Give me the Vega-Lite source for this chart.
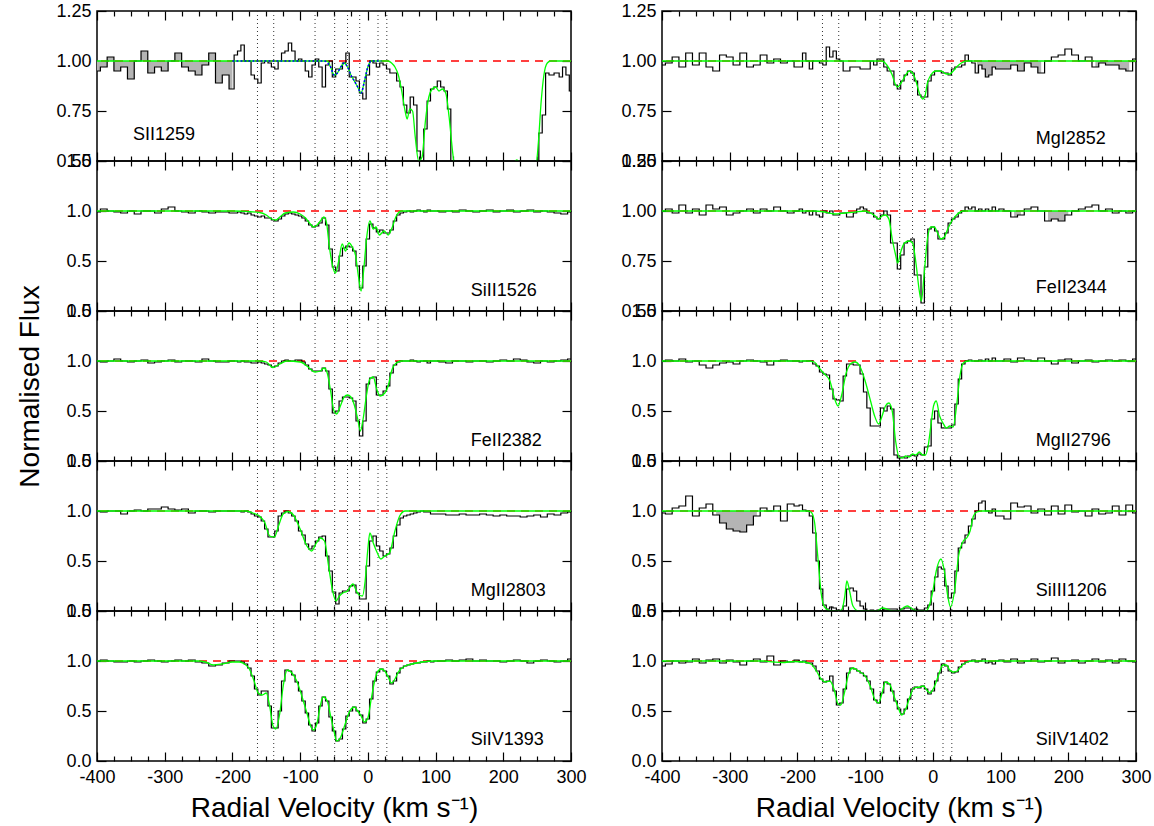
{
"$schema":"https://vega.github.io/schema/vega-lite/v6.json",
"background":"white",
"padding":{"left":16,"top":1,"right":0,"bottom":0},
"spacing":33,
"config":{
"view":{"stroke":"black","strokeWidth":1.5},
"font":"Liberation Sans",
"axis":{"domain":false,"grid":false,"labelFont":"Liberation Sans","labelFontSize":18,"labelColor":"black","tickColor":"black","tickWidth":1.2,"titleFont":"Liberation Sans","titleFontSize":28,"titleFontWeight":"normal","titleColor":"black","labelFlush":false,"labelOverlap":false,"labelBound":false}
},
"datasets":{
"comp":[{"c":-163},{"c":-139},{"c":-78},{"c":-49},{"c":-30},{"c":-12},{"c":15},{"c":28}],
"obs":[
{"p":"a","v":-400,"f":0.95,"g":1},{"p":"a","v":-390,"f":0.97,"g":1},{"p":"a","v":-380,"f":1.02,"g":1},{"p":"a","v":-370,"f":0.95,"g":1},{"p":"a","v":-360,"f":0.97,"g":1},{"p":"a","v":-350,"f":0.91,"g":1},{"p":"a","v":-340,"f":1.0,"g":1},{"p":"a","v":-330,"f":1.05,"g":1},{"p":"a","v":-320,"f":0.94,"g":1},{"p":"a","v":-310,"f":0.97,"g":1},{"p":"a","v":-300,"f":0.95,"g":1},{"p":"a","v":-290,"f":1.0,"g":1},{"p":"a","v":-280,"f":1.04,"g":1},{"p":"a","v":-270,"f":0.97,"g":1},{"p":"a","v":-260,"f":0.95,"g":1},{"p":"a","v":-250,"f":0.93,"g":1},{"p":"a","v":-240,"f":0.98,"g":1},{"p":"a","v":-230,"f":1.04,"g":1},{"p":"a","v":-220,"f":0.89,"g":1},{"p":"a","v":-210,"f":0.93,"g":1},{"p":"a","v":-200,"f":0.86,"g":1},
{"p":"a","v":-195,"f":1.03},{"p":"a","v":-190,"f":1.05},{"p":"a","v":-185,"f":1.08},{"p":"a","v":-180,"f":1.0},{"p":"a","v":-175,"f":1.0},{"p":"a","v":-170,"f":0.93},{"p":"a","v":-165,"f":0.91},{"p":"a","v":-160,"f":0.89},{"p":"a","v":-155,"f":0.99},{"p":"a","v":-150,"f":1.0},{"p":"a","v":-145,"f":0.99},{"p":"a","v":-140,"f":0.97},{"p":"a","v":-135,"f":0.96},{"p":"a","v":-130,"f":1.0},{"p":"a","v":-125,"f":1.04},{"p":"a","v":-120,"f":1.05},{"p":"a","v":-115,"f":1.09},{"p":"a","v":-110,"f":1.05},{"p":"a","v":-105,"f":1.0},{"p":"a","v":-100,"f":1.01},{"p":"a","v":-95,"f":1.0},{"p":"a","v":-90,"f":0.95},{"p":"a","v":-85,"f":0.92},{"p":"a","v":-80,"f":0.98},{"p":"a","v":-75,"f":1.01},{"p":"a","v":-70,"f":0.97},{"p":"a","v":-65,"f":0.87},{"p":"a","v":-60,"f":0.98},{"p":"a","v":-55,"f":1.0},{"p":"a","v":-50,"f":0.92},{"p":"a","v":-45,"f":0.96},{"p":"a","v":-40,"f":0.96},{"p":"a","v":-35,"f":0.99},{"p":"a","v":-30,"f":1.04},{"p":"a","v":-25,"f":0.92},{"p":"a","v":-20,"f":0.92},{"p":"a","v":-15,"f":0.9},{"p":"a","v":-10,"f":0.84},{"p":"a","v":-5,"f":0.81},{"p":"a","v":0,"f":0.93},{"p":"a","v":5,"f":1.0},{"p":"a","v":10,"f":0.99},{"p":"a","v":15,"f":0.97},{"p":"a","v":20,"f":0.99},{"p":"a","v":25,"f":0.98},{"p":"a","v":30,"f":0.96},{"p":"a","v":35,"f":0.94},{"p":"a","v":40,"f":0.94},{"p":"a","v":45,"f":0.9},{"p":"a","v":50,"f":0.87},{"p":"a","v":55,"f":0.78},{"p":"a","v":60,"f":0.74},{"p":"a","v":65,"f":0.82},{"p":"a","v":70,"f":0.78},{"p":"a","v":75,"f":0.55},{"p":"a","v":80,"f":0.5},{"p":"a","v":85,"f":0.66},{"p":"a","v":90,"f":0.8},{"p":"a","v":95,"f":0.86},{"p":"a","v":100,"f":0.87},{"p":"a","v":105,"f":0.9},{"p":"a","v":110,"f":0.87},{"p":"a","v":115,"f":0.85},{"p":"a","v":120,"f":0.76},{"p":"a","v":125,"f":0.5},{"p":"a","v":130,"f":0.4},{"p":"a","v":140,"f":0.3},{"p":"a","v":150,"f":0.2},{"p":"a","v":160,"f":0.2},{"p":"a","v":170,"f":0.2},{"p":"a","v":180,"f":0.2},{"p":"a","v":190,"f":0.2},{"p":"a","v":200,"f":0.2},{"p":"a","v":210,"f":0.2},{"p":"a","v":220,"f":0.2},{"p":"a","v":230,"f":0.2},{"p":"a","v":240,"f":0.25},{"p":"a","v":245,"f":0.3},{"p":"a","v":250,"f":0.45},{"p":"a","v":255,"f":0.64},{"p":"a","v":260,"f":0.73},{"p":"a","v":265,"f":0.94},{"p":"a","v":270,"f":0.93},{"p":"a","v":280,"f":0.94},{"p":"a","v":285,"f":0.92},{"p":"a","v":290,"f":0.97},{"p":"a","v":295,"f":0.93},{"p":"a","v":300,"f":0.85},

{"p":"b","v":-400,"f":0.99},{"p":"b","v":-390,"f":1.02},{"p":"b","v":-380,"f":1.0},{"p":"b","v":-370,"f":0.99},{"p":"b","v":-360,"f":0.98},{"p":"b","v":-350,"f":1.0},{"p":"b","v":-340,"f":0.97},{"p":"b","v":-330,"f":1.0},{"p":"b","v":-320,"f":1.0},{"p":"b","v":-310,"f":0.98},{"p":"b","v":-300,"f":1.02},{"p":"b","v":-290,"f":1.04},{"p":"b","v":-280,"f":1.0},{"p":"b","v":-270,"f":0.99},{"p":"b","v":-260,"f":0.98},{"p":"b","v":-250,"f":1.0},{"p":"b","v":-240,"f":0.99},{"p":"b","v":-230,"f":0.98},{"p":"b","v":-220,"f":0.99},{"p":"b","v":-210,"f":0.99},{"p":"b","v":-200,"f":0.98},
{"p":"b","v":-195,"f":0.98},{"p":"b","v":-190,"f":0.99},{"p":"b","v":-185,"f":0.98},{"p":"b","v":-180,"f":0.97},{"p":"b","v":-175,"f":0.98},{"p":"b","v":-170,"f":0.96},{"p":"b","v":-165,"f":0.95},{"p":"b","v":-160,"f":0.94},{"p":"b","v":-155,"f":0.95},{"p":"b","v":-150,"f":0.93},{"p":"b","v":-145,"f":0.93},{"p":"b","v":-140,"f":0.91},{"p":"b","v":-135,"f":0.9},{"p":"b","v":-130,"f":0.92},{"p":"b","v":-125,"f":0.95},{"p":"b","v":-120,"f":0.97},{"p":"b","v":-115,"f":0.98},{"p":"b","v":-110,"f":0.97},{"p":"b","v":-105,"f":0.96},{"p":"b","v":-100,"f":0.95},{"p":"b","v":-95,"f":0.93},{"p":"b","v":-90,"f":0.9},{"p":"b","v":-85,"f":0.86},{"p":"b","v":-80,"f":0.84},{"p":"b","v":-75,"f":0.85},{"p":"b","v":-70,"f":0.88},{"p":"b","v":-65,"f":0.93},{"p":"b","v":-60,"f":0.86},{"p":"b","v":-55,"f":0.62},{"p":"b","v":-50,"f":0.44},{"p":"b","v":-45,"f":0.4},{"p":"b","v":-40,"f":0.55},{"p":"b","v":-35,"f":0.63},{"p":"b","v":-30,"f":0.65},{"p":"b","v":-25,"f":0.64},{"p":"b","v":-20,"f":0.6},{"p":"b","v":-15,"f":0.45},{"p":"b","v":-10,"f":0.23},{"p":"b","v":-5,"f":0.45},{"p":"b","v":0,"f":0.72},{"p":"b","v":5,"f":0.87},{"p":"b","v":10,"f":0.83},{"p":"b","v":15,"f":0.79},{"p":"b","v":20,"f":0.81},{"p":"b","v":25,"f":0.78},{"p":"b","v":30,"f":0.78},{"p":"b","v":35,"f":0.81},{"p":"b","v":40,"f":0.9},{"p":"b","v":45,"f":0.96},{"p":"b","v":50,"f":0.98},{"p":"b","v":55,"f":0.99},{"p":"b","v":60,"f":1.0},{"p":"b","v":65,"f":0.99},{"p":"b","v":70,"f":1.0},{"p":"b","v":75,"f":1.01},{"p":"b","v":80,"f":1.0},{"p":"b","v":85,"f":0.99},{"p":"b","v":90,"f":1.01},{"p":"b","v":95,"f":1.0},{"p":"b","v":100,"f":1.0},
{"p":"b","v":110,"f":0.99},{"p":"b","v":120,"f":1.0},{"p":"b","v":130,"f":0.99},{"p":"b","v":140,"f":1.01},{"p":"b","v":150,"f":1.0},{"p":"b","v":160,"f":0.99},{"p":"b","v":170,"f":1.0},{"p":"b","v":180,"f":1.01},{"p":"b","v":190,"f":0.99},{"p":"b","v":200,"f":1.0},{"p":"b","v":210,"f":1.01},{"p":"b","v":220,"f":0.99},{"p":"b","v":230,"f":1.0},{"p":"b","v":240,"f":1.01},{"p":"b","v":250,"f":0.99},{"p":"b","v":260,"f":1.0},{"p":"b","v":270,"f":0.99},{"p":"b","v":280,"f":0.98},{"p":"b","v":290,"f":0.97},{"p":"b","v":300,"f":0.99},

{"p":"c","v":-400,"f":1.0},{"p":"c","v":-390,"f":0.99},{"p":"c","v":-380,"f":1.0},{"p":"c","v":-370,"f":1.02},{"p":"c","v":-360,"f":1.0},{"p":"c","v":-350,"f":0.99},{"p":"c","v":-340,"f":1.0},{"p":"c","v":-330,"f":1.01},{"p":"c","v":-320,"f":0.98},{"p":"c","v":-310,"f":0.99},{"p":"c","v":-300,"f":1.0},{"p":"c","v":-290,"f":1.01},{"p":"c","v":-280,"f":0.99},{"p":"c","v":-270,"f":1.0},{"p":"c","v":-260,"f":1.0},{"p":"c","v":-250,"f":0.99},{"p":"c","v":-240,"f":1.02},{"p":"c","v":-230,"f":1.0},{"p":"c","v":-220,"f":0.99},{"p":"c","v":-210,"f":0.99},{"p":"c","v":-200,"f":1.0},
{"p":"c","v":-195,"f":1.0},{"p":"c","v":-190,"f":0.99},{"p":"c","v":-185,"f":1.0},{"p":"c","v":-180,"f":0.99},{"p":"c","v":-175,"f":0.99},{"p":"c","v":-170,"f":0.98},{"p":"c","v":-165,"f":0.98},{"p":"c","v":-160,"f":0.99},{"p":"c","v":-155,"f":0.98},{"p":"c","v":-150,"f":0.97},{"p":"c","v":-145,"f":0.96},{"p":"c","v":-140,"f":0.94},{"p":"c","v":-135,"f":0.95},{"p":"c","v":-130,"f":0.98},{"p":"c","v":-125,"f":1.0},{"p":"c","v":-120,"f":1.01},{"p":"c","v":-115,"f":1.0},{"p":"c","v":-110,"f":1.0},{"p":"c","v":-105,"f":1.01},{"p":"c","v":-100,"f":1.01},{"p":"c","v":-95,"f":0.99},{"p":"c","v":-90,"f":0.96},{"p":"c","v":-85,"f":0.92},{"p":"c","v":-80,"f":0.9},{"p":"c","v":-75,"f":0.9},{"p":"c","v":-70,"f":0.9},{"p":"c","v":-65,"f":0.93},{"p":"c","v":-60,"f":0.9},{"p":"c","v":-55,"f":0.72},{"p":"c","v":-50,"f":0.48},{"p":"c","v":-45,"f":0.5},{"p":"c","v":-40,"f":0.6},{"p":"c","v":-35,"f":0.64},{"p":"c","v":-30,"f":0.64},{"p":"c","v":-25,"f":0.63},{"p":"c","v":-20,"f":0.6},{"p":"c","v":-15,"f":0.4},{"p":"c","v":-10,"f":0.25},{"p":"c","v":-5,"f":0.4},{"p":"c","v":0,"f":0.77},{"p":"c","v":5,"f":0.83},{"p":"c","v":10,"f":0.84},{"p":"c","v":15,"f":0.66},{"p":"c","v":20,"f":0.66},{"p":"c","v":25,"f":0.7},{"p":"c","v":30,"f":0.75},{"p":"c","v":35,"f":0.88},{"p":"c","v":40,"f":0.96},{"p":"c","v":45,"f":0.99},{"p":"c","v":50,"f":1.0},{"p":"c","v":55,"f":1.0},{"p":"c","v":60,"f":1.0},{"p":"c","v":65,"f":1.01},{"p":"c","v":70,"f":1.0},{"p":"c","v":75,"f":0.99},{"p":"c","v":80,"f":1.0},{"p":"c","v":85,"f":1.0},{"p":"c","v":90,"f":0.98},{"p":"c","v":95,"f":1.0},{"p":"c","v":100,"f":1.0},
{"p":"c","v":110,"f":0.99},{"p":"c","v":120,"f":0.98},{"p":"c","v":130,"f":1.0},{"p":"c","v":140,"f":1.0},{"p":"c","v":150,"f":0.99},{"p":"c","v":160,"f":1.0},{"p":"c","v":170,"f":1.0},{"p":"c","v":180,"f":0.99},{"p":"c","v":190,"f":1.0},{"p":"c","v":200,"f":1.01},{"p":"c","v":210,"f":1.0},{"p":"c","v":220,"f":1.02},{"p":"c","v":230,"f":1.01},{"p":"c","v":240,"f":0.99},{"p":"c","v":250,"f":0.98},{"p":"c","v":260,"f":1.0},{"p":"c","v":270,"f":0.99},{"p":"c","v":280,"f":1.0},{"p":"c","v":290,"f":1.01},{"p":"c","v":300,"f":1.02},

{"p":"d","v":-400,"f":1.0},{"p":"d","v":-390,"f":0.99},{"p":"d","v":-380,"f":1.0},{"p":"d","v":-370,"f":1.0},{"p":"d","v":-360,"f":0.97},{"p":"d","v":-350,"f":1.0},{"p":"d","v":-340,"f":1.01},{"p":"d","v":-330,"f":1.0},{"p":"d","v":-320,"f":1.02},{"p":"d","v":-310,"f":1.02},{"p":"d","v":-300,"f":1.04},{"p":"d","v":-290,"f":1.02},{"p":"d","v":-280,"f":1.01},{"p":"d","v":-270,"f":1.02},{"p":"d","v":-260,"f":0.98},{"p":"d","v":-250,"f":1.0},{"p":"d","v":-240,"f":1.0},{"p":"d","v":-230,"f":0.99},{"p":"d","v":-220,"f":1.0},{"p":"d","v":-210,"f":1.0},{"p":"d","v":-200,"f":1.0},
{"p":"d","v":-195,"f":1.0},{"p":"d","v":-190,"f":1.0},{"p":"d","v":-185,"f":0.99},{"p":"d","v":-180,"f":1.0},{"p":"d","v":-175,"f":0.99},{"p":"d","v":-170,"f":0.97},{"p":"d","v":-165,"f":0.95},{"p":"d","v":-160,"f":0.94},{"p":"d","v":-155,"f":0.9},{"p":"d","v":-150,"f":0.82},{"p":"d","v":-145,"f":0.74},{"p":"d","v":-140,"f":0.74},{"p":"d","v":-135,"f":0.8},{"p":"d","v":-130,"f":0.95},{"p":"d","v":-125,"f":0.98},{"p":"d","v":-120,"f":1.0},{"p":"d","v":-115,"f":0.98},{"p":"d","v":-110,"f":0.95},{"p":"d","v":-105,"f":0.9},{"p":"d","v":-100,"f":0.8},{"p":"d","v":-95,"f":0.76},{"p":"d","v":-90,"f":0.67},{"p":"d","v":-85,"f":0.62},{"p":"d","v":-80,"f":0.65},{"p":"d","v":-75,"f":0.7},{"p":"d","v":-70,"f":0.74},{"p":"d","v":-65,"f":0.75},{"p":"d","v":-60,"f":0.55},{"p":"d","v":-55,"f":0.4},{"p":"d","v":-50,"f":0.19},{"p":"d","v":-45,"f":0.07},{"p":"d","v":-40,"f":0.18},{"p":"d","v":-35,"f":0.2},{"p":"d","v":-30,"f":0.2},{"p":"d","v":-25,"f":0.25},{"p":"d","v":-20,"f":0.26},{"p":"d","v":-15,"f":0.18},{"p":"d","v":-10,"f":0.12},{"p":"d","v":-5,"f":0.12},{"p":"d","v":0,"f":0.45},{"p":"d","v":5,"f":0.7},{"p":"d","v":10,"f":0.75},{"p":"d","v":15,"f":0.65},{"p":"d","v":20,"f":0.6},{"p":"d","v":25,"f":0.55},{"p":"d","v":30,"f":0.57},{"p":"d","v":35,"f":0.63},{"p":"d","v":40,"f":0.75},{"p":"d","v":45,"f":0.86},{"p":"d","v":50,"f":0.93},{"p":"d","v":55,"f":0.95},{"p":"d","v":60,"f":0.96},{"p":"d","v":65,"f":0.97},{"p":"d","v":70,"f":0.98},{"p":"d","v":75,"f":0.99},{"p":"d","v":80,"f":1.0},{"p":"d","v":85,"f":0.99},{"p":"d","v":90,"f":0.99},{"p":"d","v":95,"f":0.97},{"p":"d","v":100,"f":0.97},
{"p":"d","v":110,"f":0.97},{"p":"d","v":120,"f":0.96},{"p":"d","v":130,"f":0.96},{"p":"d","v":140,"f":0.97},{"p":"d","v":150,"f":0.96},{"p":"d","v":160,"f":0.96},{"p":"d","v":170,"f":0.97},{"p":"d","v":180,"f":0.96},{"p":"d","v":190,"f":0.95},{"p":"d","v":200,"f":0.96},{"p":"d","v":210,"f":0.95},{"p":"d","v":220,"f":0.95},{"p":"d","v":230,"f":0.94},{"p":"d","v":240,"f":0.95},{"p":"d","v":250,"f":0.96},{"p":"d","v":260,"f":0.94},{"p":"d","v":270,"f":0.97},{"p":"d","v":280,"f":0.96},{"p":"d","v":290,"f":0.98},{"p":"d","v":300,"f":0.99},

{"p":"e","v":-400,"f":1.0},{"p":"e","v":-390,"f":1.01},{"p":"e","v":-380,"f":1.0},{"p":"e","v":-370,"f":0.99},{"p":"e","v":-360,"f":0.99},{"p":"e","v":-350,"f":1.0},{"p":"e","v":-340,"f":0.99},{"p":"e","v":-330,"f":1.0},{"p":"e","v":-320,"f":1.01},{"p":"e","v":-310,"f":1.0},{"p":"e","v":-300,"f":0.99},{"p":"e","v":-290,"f":1.0},{"p":"e","v":-280,"f":1.01},{"p":"e","v":-270,"f":1.0},{"p":"e","v":-260,"f":1.01},{"p":"e","v":-250,"f":0.99},{"p":"e","v":-240,"f":0.98},{"p":"e","v":-230,"f":0.95},{"p":"e","v":-220,"f":0.96},{"p":"e","v":-210,"f":0.98},{"p":"e","v":-200,"f":1.0},
{"p":"e","v":-195,"f":1.0},{"p":"e","v":-190,"f":1.0},{"p":"e","v":-185,"f":0.99},{"p":"e","v":-180,"f":0.97},{"p":"e","v":-175,"f":0.93},{"p":"e","v":-170,"f":0.85},{"p":"e","v":-165,"f":0.72},{"p":"e","v":-160,"f":0.66},{"p":"e","v":-155,"f":0.7},{"p":"e","v":-150,"f":0.7},{"p":"e","v":-145,"f":0.55},{"p":"e","v":-140,"f":0.33},{"p":"e","v":-135,"f":0.33},{"p":"e","v":-130,"f":0.5},{"p":"e","v":-125,"f":0.8},{"p":"e","v":-120,"f":0.91},{"p":"e","v":-115,"f":0.9},{"p":"e","v":-110,"f":0.86},{"p":"e","v":-105,"f":0.79},{"p":"e","v":-100,"f":0.7},{"p":"e","v":-95,"f":0.6},{"p":"e","v":-90,"f":0.48},{"p":"e","v":-85,"f":0.36},{"p":"e","v":-80,"f":0.3},{"p":"e","v":-75,"f":0.38},{"p":"e","v":-70,"f":0.55},{"p":"e","v":-65,"f":0.64},{"p":"e","v":-60,"f":0.6},{"p":"e","v":-55,"f":0.44},{"p":"e","v":-50,"f":0.3},{"p":"e","v":-45,"f":0.2},{"p":"e","v":-40,"f":0.22},{"p":"e","v":-35,"f":0.32},{"p":"e","v":-30,"f":0.45},{"p":"e","v":-25,"f":0.5},{"p":"e","v":-20,"f":0.54},{"p":"e","v":-15,"f":0.5},{"p":"e","v":-10,"f":0.46},{"p":"e","v":-5,"f":0.38},{"p":"e","v":0,"f":0.42},{"p":"e","v":5,"f":0.62},{"p":"e","v":10,"f":0.8},{"p":"e","v":15,"f":0.89},{"p":"e","v":20,"f":0.92},{"p":"e","v":25,"f":0.9},{"p":"e","v":30,"f":0.85},{"p":"e","v":35,"f":0.77},{"p":"e","v":40,"f":0.8},{"p":"e","v":45,"f":0.88},{"p":"e","v":50,"f":0.93},{"p":"e","v":55,"f":0.95},{"p":"e","v":60,"f":0.96},{"p":"e","v":65,"f":0.97},{"p":"e","v":70,"f":0.98},{"p":"e","v":75,"f":0.98},{"p":"e","v":80,"f":0.99},{"p":"e","v":85,"f":0.99},{"p":"e","v":90,"f":1.0},{"p":"e","v":95,"f":0.99},{"p":"e","v":100,"f":1.0},
{"p":"e","v":110,"f":1.0},{"p":"e","v":120,"f":1.01},{"p":"e","v":130,"f":1.0},{"p":"e","v":140,"f":1.01},{"p":"e","v":150,"f":1.02},{"p":"e","v":160,"f":1.0},{"p":"e","v":170,"f":1.01},{"p":"e","v":180,"f":1.0},{"p":"e","v":190,"f":1.0},{"p":"e","v":200,"f":0.99},{"p":"e","v":210,"f":1.0},{"p":"e","v":220,"f":1.01},{"p":"e","v":230,"f":1.0},{"p":"e","v":240,"f":0.98},{"p":"e","v":250,"f":1.0},{"p":"e","v":260,"f":1.01},{"p":"e","v":270,"f":1.0},{"p":"e","v":280,"f":0.99},{"p":"e","v":290,"f":1.0},{"p":"e","v":300,"f":1.02},

{"p":"f","v":-400,"f":0.98},{"p":"f","v":-390,"f":0.99},{"p":"f","v":-380,"f":1.02},{"p":"f","v":-370,"f":0.97},{"p":"f","v":-360,"f":1.04},{"p":"f","v":-350,"f":0.98},{"p":"f","v":-340,"f":1.04},{"p":"f","v":-330,"f":0.97},{"p":"f","v":-320,"f":0.95},{"p":"f","v":-310,"f":1.03},{"p":"f","v":-300,"f":1.02},{"p":"f","v":-290,"f":0.98},{"p":"f","v":-280,"f":1.04},{"p":"f","v":-270,"f":0.97},{"p":"f","v":-260,"f":0.98},{"p":"f","v":-250,"f":1.03},{"p":"f","v":-240,"f":0.99},{"p":"f","v":-230,"f":1.01},{"p":"f","v":-220,"f":0.99},{"p":"f","v":-210,"f":1.0},{"p":"f","v":-200,"f":0.97},
{"p":"f","v":-195,"f":0.97},{"p":"f","v":-190,"f":1.04},{"p":"f","v":-185,"f":1.0},{"p":"f","v":-180,"f":0.96},{"p":"f","v":-175,"f":1.0},{"p":"f","v":-170,"f":1.0},{"p":"f","v":-165,"f":0.99},{"p":"f","v":-160,"f":0.98},{"p":"f","v":-155,"f":1.07},{"p":"f","v":-150,"f":1.02},{"p":"f","v":-145,"f":1.05},{"p":"f","v":-140,"f":1.01},{"p":"f","v":-135,"f":1.0},{"p":"f","v":-130,"f":0.95},{"p":"f","v":-125,"f":0.95},{"p":"f","v":-120,"f":0.97},{"p":"f","v":-115,"f":0.97},{"p":"f","v":-110,"f":0.97},{"p":"f","v":-105,"f":0.96},{"p":"f","v":-100,"f":0.96},{"p":"f","v":-95,"f":0.96},{"p":"f","v":-90,"f":1.0},{"p":"f","v":-85,"f":0.98},{"p":"f","v":-80,"f":1.01},{"p":"f","v":-75,"f":1.01},{"p":"f","v":-70,"f":0.97},{"p":"f","v":-65,"f":0.95},{"p":"f","v":-60,"f":0.95},{"p":"f","v":-55,"f":0.88},{"p":"f","v":-50,"f":0.86},{"p":"f","v":-45,"f":0.9},{"p":"f","v":-40,"f":0.93},{"p":"f","v":-35,"f":0.95},{"p":"f","v":-30,"f":0.94},{"p":"f","v":-25,"f":0.9},{"p":"f","v":-20,"f":0.83},{"p":"f","v":-15,"f":0.82},{"p":"f","v":-10,"f":0.82},{"p":"f","v":-5,"f":0.9},{"p":"f","v":0,"f":0.93},{"p":"f","v":5,"f":0.95},{"p":"f","v":10,"f":0.95},{"p":"f","v":15,"f":0.94},{"p":"f","v":20,"f":0.94},{"p":"f","v":25,"f":0.93},{"p":"f","v":30,"f":0.96},{"p":"f","v":35,"f":0.97},{"p":"f","v":40,"f":0.97},{"p":"f","v":45,"f":0.98},{"p":"f","v":50,"f":1.03},{"p":"f","v":55,"f":1.0},{"p":"f","v":60,"f":0.99},{"p":"f","v":65,"f":0.94,"g":1},{"p":"f","v":70,"f":0.98,"g":1},{"p":"f","v":75,"f":0.96,"g":1},{"p":"f","v":80,"f":0.92,"g":1},{"p":"f","v":85,"f":0.93,"g":1},{"p":"f","v":90,"f":0.97,"g":1},{"p":"f","v":95,"f":0.96,"g":1},{"p":"f","v":100,"f":0.96,"g":1},
{"p":"f","v":110,"f":0.96,"g":1},{"p":"f","v":120,"f":0.98,"g":1},{"p":"f","v":130,"f":0.95,"g":1},{"p":"f","v":140,"f":0.99,"g":1},{"p":"f","v":150,"f":0.97,"g":1},{"p":"f","v":160,"f":0.94,"g":1},{"p":"f","v":170,"f":1.0},{"p":"f","v":180,"f":1.02},{"p":"f","v":190,"f":1.03},{"p":"f","v":200,"f":1.06},{"p":"f","v":210,"f":1.03},{"p":"f","v":220,"f":1.0},{"p":"f","v":230,"f":1.02},{"p":"f","v":240,"f":0.97,"g":2},{"p":"f","v":250,"f":0.99,"g":2},{"p":"f","v":260,"f":0.98,"g":2},{"p":"f","v":270,"f":0.98,"g":2},{"p":"f","v":280,"f":0.96,"g":2},{"p":"f","v":290,"f":0.95,"g":2},{"p":"f","v":300,"f":1.01},

{"p":"g","v":-400,"f":1.0},{"p":"g","v":-390,"f":1.01},{"p":"g","v":-380,"f":0.99},{"p":"g","v":-370,"f":1.03},{"p":"g","v":-360,"f":0.99},{"p":"g","v":-350,"f":1.01},{"p":"g","v":-340,"f":0.98},{"p":"g","v":-330,"f":1.03},{"p":"g","v":-320,"f":1.01},{"p":"g","v":-310,"f":1.02},{"p":"g","v":-300,"f":0.98},{"p":"g","v":-290,"f":0.99},{"p":"g","v":-280,"f":1.0},{"p":"g","v":-270,"f":1.01},{"p":"g","v":-260,"f":0.99},{"p":"g","v":-250,"f":1.01},{"p":"g","v":-240,"f":1.0},{"p":"g","v":-230,"f":1.02},{"p":"g","v":-220,"f":1.0},{"p":"g","v":-210,"f":0.99},{"p":"g","v":-200,"f":1.0},
{"p":"g","v":-195,"f":1.01},{"p":"g","v":-190,"f":0.99},{"p":"g","v":-185,"f":1.0},{"p":"g","v":-180,"f":0.98},{"p":"g","v":-175,"f":1.0},{"p":"g","v":-170,"f":0.98},{"p":"g","v":-165,"f":0.97},{"p":"g","v":-160,"f":1.0},{"p":"g","v":-155,"f":0.99},{"p":"g","v":-150,"f":1.0},{"p":"g","v":-145,"f":0.98},{"p":"g","v":-140,"f":0.98},{"p":"g","v":-135,"f":0.99},{"p":"g","v":-130,"f":0.99},{"p":"g","v":-125,"f":0.97},{"p":"g","v":-120,"f":0.97},{"p":"g","v":-115,"f":0.99},{"p":"g","v":-110,"f":1.01},{"p":"g","v":-105,"f":1.02},{"p":"g","v":-100,"f":1.01},{"p":"g","v":-95,"f":0.99},{"p":"g","v":-90,"f":0.99},{"p":"g","v":-85,"f":0.97},{"p":"g","v":-80,"f":0.96},{"p":"g","v":-75,"f":0.98},{"p":"g","v":-70,"f":1.0},{"p":"g","v":-65,"f":0.98},{"p":"g","v":-60,"f":0.84},{"p":"g","v":-55,"f":0.84},{"p":"g","v":-50,"f":0.71},{"p":"g","v":-45,"f":0.78},{"p":"g","v":-40,"f":0.84},{"p":"g","v":-35,"f":0.85},{"p":"g","v":-30,"f":0.86},{"p":"g","v":-25,"f":0.68},{"p":"g","v":-20,"f":0.68},{"p":"g","v":-15,"f":0.54},{"p":"g","v":-10,"f":0.72},{"p":"g","v":-5,"f":0.91},{"p":"g","v":0,"f":0.92},{"p":"g","v":5,"f":0.9},{"p":"g","v":10,"f":0.86},{"p":"g","v":15,"f":0.86},{"p":"g","v":20,"f":0.89},{"p":"g","v":25,"f":0.94},{"p":"g","v":30,"f":0.96},{"p":"g","v":35,"f":0.97},{"p":"g","v":40,"f":0.99},{"p":"g","v":45,"f":1.0},{"p":"g","v":50,"f":1.02},{"p":"g","v":55,"f":1.01},{"p":"g","v":60,"f":1.02},{"p":"g","v":65,"f":1.0},{"p":"g","v":70,"f":1.01},{"p":"g","v":75,"f":1.0},{"p":"g","v":80,"f":1.01},{"p":"g","v":85,"f":1.0},{"p":"g","v":90,"f":1.02},{"p":"g","v":95,"f":1.0},{"p":"g","v":100,"f":1.01},
{"p":"g","v":110,"f":1.0},{"p":"g","v":120,"f":0.97,"g":1},{"p":"g","v":130,"f":0.98,"g":1},{"p":"g","v":140,"f":1.01},{"p":"g","v":150,"f":1.02},{"p":"g","v":160,"f":1.0},{"p":"g","v":170,"f":0.95,"g":2},{"p":"g","v":180,"f":0.96,"g":2},{"p":"g","v":190,"f":0.95,"g":2},{"p":"g","v":200,"f":0.98,"g":2},{"p":"g","v":210,"f":1.0},{"p":"g","v":220,"f":1.01},{"p":"g","v":230,"f":1.02},{"p":"g","v":240,"f":1.03},{"p":"g","v":250,"f":1.0},{"p":"g","v":260,"f":1.01},{"p":"g","v":270,"f":0.99},{"p":"g","v":280,"f":1.0},{"p":"g","v":290,"f":0.99},{"p":"g","v":300,"f":1.0},

{"p":"h","v":-400,"f":1.0},{"p":"h","v":-390,"f":1.01},{"p":"h","v":-380,"f":1.0},{"p":"h","v":-370,"f":1.02},{"p":"h","v":-360,"f":0.99},{"p":"h","v":-350,"f":1.0},{"p":"h","v":-340,"f":0.96},{"p":"h","v":-330,"f":0.93},{"p":"h","v":-320,"f":0.96},{"p":"h","v":-310,"f":0.98},{"p":"h","v":-300,"f":0.99},{"p":"h","v":-290,"f":0.97},{"p":"h","v":-280,"f":1.0},{"p":"h","v":-270,"f":1.01},{"p":"h","v":-260,"f":1.0},{"p":"h","v":-250,"f":0.99},{"p":"h","v":-240,"f":0.96},{"p":"h","v":-230,"f":1.0},{"p":"h","v":-220,"f":1.01},{"p":"h","v":-210,"f":1.0},{"p":"h","v":-200,"f":1.0},
{"p":"h","v":-195,"f":0.99},{"p":"h","v":-190,"f":1.0},{"p":"h","v":-185,"f":1.0},{"p":"h","v":-180,"f":1.0},{"p":"h","v":-175,"f":0.97},{"p":"h","v":-170,"f":0.95},{"p":"h","v":-165,"f":0.89},{"p":"h","v":-160,"f":0.87},{"p":"h","v":-155,"f":0.86},{"p":"h","v":-150,"f":0.72},{"p":"h","v":-145,"f":0.62},{"p":"h","v":-140,"f":0.61},{"p":"h","v":-135,"f":0.6},{"p":"h","v":-130,"f":0.85},{"p":"h","v":-125,"f":0.97},{"p":"h","v":-120,"f":0.97},{"p":"h","v":-115,"f":0.96},{"p":"h","v":-110,"f":0.96},{"p":"h","v":-105,"f":0.87},{"p":"h","v":-100,"f":0.69},{"p":"h","v":-95,"f":0.53},{"p":"h","v":-90,"f":0.35},{"p":"h","v":-85,"f":0.35},{"p":"h","v":-80,"f":0.35},{"p":"h","v":-75,"f":0.53},{"p":"h","v":-70,"f":0.5},{"p":"h","v":-65,"f":0.55},{"p":"h","v":-60,"f":0.52},{"p":"h","v":-55,"f":0.06},{"p":"h","v":-50,"f":0.03},{"p":"h","v":-45,"f":0.04},{"p":"h","v":-40,"f":0.03},{"p":"h","v":-35,"f":0.05},{"p":"h","v":-30,"f":0.06},{"p":"h","v":-25,"f":0.05},{"p":"h","v":-20,"f":0.07},{"p":"h","v":-15,"f":0.06},{"p":"h","v":-10,"f":0.14},{"p":"h","v":-5,"f":0.15},{"p":"h","v":0,"f":0.42},{"p":"h","v":5,"f":0.5},{"p":"h","v":10,"f":0.38},{"p":"h","v":15,"f":0.33},{"p":"h","v":20,"f":0.33},{"p":"h","v":25,"f":0.33},{"p":"h","v":30,"f":0.36},{"p":"h","v":35,"f":0.57},{"p":"h","v":40,"f":0.82},{"p":"h","v":45,"f":0.97},{"p":"h","v":50,"f":1.0},{"p":"h","v":55,"f":1.01},{"p":"h","v":60,"f":1.0},{"p":"h","v":65,"f":1.0},{"p":"h","v":70,"f":1.01},{"p":"h","v":75,"f":1.0},{"p":"h","v":80,"f":1.02},{"p":"h","v":85,"f":1.0},{"p":"h","v":90,"f":1.03},{"p":"h","v":95,"f":1.0},{"p":"h","v":100,"f":1.0},
{"p":"h","v":110,"f":1.02},{"p":"h","v":120,"f":0.99},{"p":"h","v":130,"f":1.03},{"p":"h","v":140,"f":1.01},{"p":"h","v":150,"f":1.0},{"p":"h","v":160,"f":1.03},{"p":"h","v":170,"f":1.0},{"p":"h","v":180,"f":0.97},{"p":"h","v":190,"f":1.01},{"p":"h","v":200,"f":1.02},{"p":"h","v":210,"f":0.98},{"p":"h","v":220,"f":1.0},{"p":"h","v":230,"f":1.01},{"p":"h","v":240,"f":0.99},{"p":"h","v":250,"f":1.0},{"p":"h","v":260,"f":1.01},{"p":"h","v":270,"f":1.0},{"p":"h","v":280,"f":1.01},{"p":"h","v":290,"f":1.0},{"p":"h","v":300,"f":1.02},

{"p":"i","v":-400,"f":0.98},{"p":"i","v":-390,"f":0.97},{"p":"i","v":-380,"f":1.03},{"p":"i","v":-370,"f":1.05},{"p":"i","v":-360,"f":1.15},{"p":"i","v":-350,"f":0.95},{"p":"i","v":-340,"f":1.03},{"p":"i","v":-330,"f":1.07},{"p":"i","v":-320,"f":0.96,"g":1},{"p":"i","v":-310,"f":0.88,"g":1},{"p":"i","v":-300,"f":0.82,"g":1},{"p":"i","v":-290,"f":0.8,"g":1},{"p":"i","v":-280,"f":0.79,"g":1},{"p":"i","v":-270,"f":0.86,"g":1},{"p":"i","v":-260,"f":0.95,"g":1},{"p":"i","v":-250,"f":1.03},{"p":"i","v":-240,"f":1.0},{"p":"i","v":-230,"f":1.05},{"p":"i","v":-220,"f":0.9},{"p":"i","v":-210,"f":1.07},{"p":"i","v":-200,"f":1.05},
{"p":"i","v":-195,"f":1.06},{"p":"i","v":-190,"f":1.01},{"p":"i","v":-185,"f":1.0},{"p":"i","v":-180,"f":0.95},{"p":"i","v":-175,"f":0.78},{"p":"i","v":-170,"f":0.5},{"p":"i","v":-165,"f":0.22},{"p":"i","v":-160,"f":0.06},{"p":"i","v":-155,"f":0.02},{"p":"i","v":-150,"f":0.04},{"p":"i","v":-145,"f":0.03},{"p":"i","v":-140,"f":0.01},{"p":"i","v":-135,"f":0.0},{"p":"i","v":-130,"f":0.05},{"p":"i","v":-125,"f":0.22},{"p":"i","v":-120,"f":0.23},{"p":"i","v":-115,"f":0.2},{"p":"i","v":-110,"f":0.1},{"p":"i","v":-105,"f":0.05},{"p":"i","v":-100,"f":0.02},{"p":"i","v":-95,"f":0.0},{"p":"i","v":-90,"f":0.01},{"p":"i","v":-85,"f":0.0},{"p":"i","v":-80,"f":0.01},{"p":"i","v":-75,"f":0.0},{"p":"i","v":-70,"f":0.02},{"p":"i","v":-65,"f":0.02},{"p":"i","v":-60,"f":0.02},{"p":"i","v":-55,"f":0.02},{"p":"i","v":-50,"f":0.0},{"p":"i","v":-45,"f":0.02},{"p":"i","v":-40,"f":0.03},{"p":"i","v":-35,"f":0.03},{"p":"i","v":-30,"f":0.0},{"p":"i","v":-25,"f":0.02},{"p":"i","v":-20,"f":0.01},{"p":"i","v":-15,"f":0.01},{"p":"i","v":-10,"f":0.03},{"p":"i","v":-5,"f":0.06},{"p":"i","v":0,"f":0.2},{"p":"i","v":5,"f":0.34},{"p":"i","v":10,"f":0.44},{"p":"i","v":15,"f":0.42},{"p":"i","v":20,"f":0.25},{"p":"i","v":25,"f":0.13},{"p":"i","v":30,"f":0.18},{"p":"i","v":35,"f":0.4},{"p":"i","v":40,"f":0.63},{"p":"i","v":45,"f":0.68},{"p":"i","v":50,"f":0.76},{"p":"i","v":55,"f":0.85},{"p":"i","v":60,"f":0.92},{"p":"i","v":65,"f":1.0},{"p":"i","v":70,"f":1.08},{"p":"i","v":75,"f":1.1},{"p":"i","v":80,"f":1.0},{"p":"i","v":85,"f":0.98},{"p":"i","v":90,"f":1.02},{"p":"i","v":95,"f":0.95},{"p":"i","v":100,"f":0.95},
{"p":"i","v":110,"f":0.92},{"p":"i","v":120,"f":1.08},{"p":"i","v":130,"f":1.04},{"p":"i","v":140,"f":1.05},{"p":"i","v":150,"f":0.98},{"p":"i","v":160,"f":1.02},{"p":"i","v":170,"f":0.96},{"p":"i","v":180,"f":1.05},{"p":"i","v":190,"f":0.97},{"p":"i","v":200,"f":1.06},{"p":"i","v":210,"f":0.99},{"p":"i","v":220,"f":1.0},{"p":"i","v":230,"f":0.95},{"p":"i","v":240,"f":1.02},{"p":"i","v":250,"f":0.97},{"p":"i","v":260,"f":0.98},{"p":"i","v":270,"f":1.05},{"p":"i","v":280,"f":0.96},{"p":"i","v":290,"f":1.06},{"p":"i","v":300,"f":0.98},

{"p":"j","v":-400,"f":0.95},{"p":"j","v":-390,"f":0.97},{"p":"j","v":-380,"f":1.0},{"p":"j","v":-370,"f":0.98},{"p":"j","v":-360,"f":0.99},{"p":"j","v":-350,"f":1.02},{"p":"j","v":-340,"f":0.98},{"p":"j","v":-330,"f":1.01},{"p":"j","v":-320,"f":1.02},{"p":"j","v":-310,"f":0.98},{"p":"j","v":-300,"f":1.01},{"p":"j","v":-290,"f":0.99},{"p":"j","v":-280,"f":0.96},{"p":"j","v":-270,"f":1.0},{"p":"j","v":-260,"f":1.02},{"p":"j","v":-250,"f":0.99},{"p":"j","v":-240,"f":1.05},{"p":"j","v":-230,"f":0.96},{"p":"j","v":-220,"f":1.0},{"p":"j","v":-210,"f":0.99},{"p":"j","v":-200,"f":1.01},
{"p":"j","v":-195,"f":0.99},{"p":"j","v":-190,"f":1.0},{"p":"j","v":-185,"f":0.98},{"p":"j","v":-180,"f":0.98},{"p":"j","v":-175,"f":0.95},{"p":"j","v":-170,"f":0.9},{"p":"j","v":-165,"f":0.82},{"p":"j","v":-160,"f":0.79},{"p":"j","v":-155,"f":0.8},{"p":"j","v":-150,"f":0.85},{"p":"j","v":-145,"f":0.7},{"p":"j","v":-140,"f":0.56},{"p":"j","v":-135,"f":0.58},{"p":"j","v":-130,"f":0.72},{"p":"j","v":-125,"f":0.88},{"p":"j","v":-120,"f":0.93},{"p":"j","v":-115,"f":0.92},{"p":"j","v":-110,"f":0.9},{"p":"j","v":-105,"f":0.88},{"p":"j","v":-100,"f":0.85},{"p":"j","v":-95,"f":0.8},{"p":"j","v":-90,"f":0.72},{"p":"j","v":-85,"f":0.61},{"p":"j","v":-80,"f":0.58},{"p":"j","v":-75,"f":0.68},{"p":"j","v":-70,"f":0.79},{"p":"j","v":-65,"f":0.77},{"p":"j","v":-60,"f":0.7},{"p":"j","v":-55,"f":0.6},{"p":"j","v":-50,"f":0.52},{"p":"j","v":-45,"f":0.47},{"p":"j","v":-40,"f":0.52},{"p":"j","v":-35,"f":0.62},{"p":"j","v":-30,"f":0.72},{"p":"j","v":-25,"f":0.74},{"p":"j","v":-20,"f":0.73},{"p":"j","v":-15,"f":0.75},{"p":"j","v":-10,"f":0.72},{"p":"j","v":-5,"f":0.67},{"p":"j","v":0,"f":0.7},{"p":"j","v":5,"f":0.8},{"p":"j","v":10,"f":0.88},{"p":"j","v":15,"f":0.97},{"p":"j","v":20,"f":0.95},{"p":"j","v":25,"f":0.9},{"p":"j","v":30,"f":0.88},{"p":"j","v":35,"f":0.89},{"p":"j","v":40,"f":0.94},{"p":"j","v":45,"f":0.97},{"p":"j","v":50,"f":0.99},{"p":"j","v":55,"f":1.0},{"p":"j","v":60,"f":1.01},{"p":"j","v":65,"f":0.99},{"p":"j","v":70,"f":1.0},{"p":"j","v":75,"f":1.02},{"p":"j","v":80,"f":0.98},{"p":"j","v":85,"f":0.99},{"p":"j","v":90,"f":0.97},{"p":"j","v":95,"f":1.0},{"p":"j","v":100,"f":1.01},
{"p":"j","v":110,"f":0.99},{"p":"j","v":120,"f":1.02},{"p":"j","v":130,"f":0.98},{"p":"j","v":140,"f":1.0},{"p":"j","v":150,"f":1.02},{"p":"j","v":160,"f":0.99},{"p":"j","v":170,"f":1.0},{"p":"j","v":180,"f":1.03},{"p":"j","v":190,"f":0.98},{"p":"j","v":200,"f":1.0},{"p":"j","v":210,"f":1.01},{"p":"j","v":220,"f":0.98},{"p":"j","v":230,"f":1.0},{"p":"j","v":240,"f":1.02},{"p":"j","v":250,"f":0.99},{"p":"j","v":260,"f":1.01},{"p":"j","v":270,"f":0.98},{"p":"j","v":280,"f":1.02},{"p":"j","v":290,"f":1.0},{"p":"j","v":300,"f":0.99}
],
"mod":[
{"p":"a","v":-400,"m":1},{"p":"a","v":-200,"m":1},{"p":"a","v":-60,"m":1},{"p":"a","v":-55,"m":0.97},{"p":"a","v":-50,"m":0.93},{"p":"a","v":-45,"m":0.94},{"p":"a","v":-40,"m":0.97},{"p":"a","v":-35,"m":0.99},{"p":"a","v":-30,"m":0.97},{"p":"a","v":-25,"m":0.93},{"p":"a","v":-20,"m":0.9},{"p":"a","v":-15,"m":0.87},{"p":"a","v":-10,"m":0.84},{"p":"a","v":-5,"m":0.9},{"p":"a","v":0,"m":0.97},{"p":"a","v":5,"m":1.0},{"p":"a","v":30,"m":1.0},{"p":"a","v":35,"m":0.99},{"p":"a","v":40,"m":0.97},{"p":"a","v":45,"m":0.93},{"p":"a","v":50,"m":0.85},{"p":"a","v":55,"m":0.75},{"p":"a","v":58,"m":0.71},{"p":"a","v":62,"m":0.76},{"p":"a","v":66,"m":0.75},{"p":"a","v":70,"m":0.62},{"p":"a","v":75,"m":0.5},{"p":"a","v":80,"m":0.52},{"p":"a","v":85,"m":0.7},{"p":"a","v":90,"m":0.82},{"p":"a","v":95,"m":0.86},{"p":"a","v":100,"m":0.87},{"p":"a","v":105,"m":0.85},{"p":"a","v":110,"m":0.86},{"p":"a","v":115,"m":0.84},{"p":"a","v":120,"m":0.72},{"p":"a","v":125,"m":0.55},{"p":"a","v":130,"m":0.42},{"p":"a","v":140,"m":0.3},{"p":"a","v":200,"m":0.35},{"p":"a","v":210,"m":0.45},{"p":"a","v":220,"m":0.505},{"p":"a","v":230,"m":0.45},{"p":"a","v":240,"m":0.35},{"p":"a","v":248,"m":0.45},{"p":"a","v":252,"m":0.6},{"p":"a","v":256,"m":0.8},{"p":"a","v":260,"m":0.93},{"p":"a","v":265,"m":0.99},{"p":"a","v":270,"m":1.0},{"p":"a","v":300,"m":1.0},
{"p":"ab","v":-200,"m":1},{"p":"ab","v":-65,"m":1},{"p":"ab","v":-55,"m":0.97},{"p":"ab","v":-50,"m":0.93},{"p":"ab","v":-45,"m":0.94},{"p":"ab","v":-40,"m":0.97},{"p":"ab","v":-35,"m":0.99},{"p":"ab","v":-30,"m":0.97},{"p":"ab","v":-25,"m":0.93},{"p":"ab","v":-20,"m":0.9},{"p":"ab","v":-15,"m":0.87},{"p":"ab","v":-10,"m":0.84},{"p":"ab","v":-5,"m":0.9},{"p":"ab","v":0,"m":0.97},{"p":"ab","v":5,"m":1.0},{"p":"ab","v":20,"m":1.0},
{"p":"b","v":-400,"m":1},{"p":"b","v":-200,"m":1},{"p":"b","v":-160,"m":0.985},{"p":"b","v":-150,"m":0.96},{"p":"b","v":-142,"m":0.92},{"p":"b","v":-136,"m":0.91},{"p":"b","v":-130,"m":0.94},{"p":"b","v":-122,"m":0.98},{"p":"b","v":-110,"m":0.99},{"p":"b","v":-100,"m":0.97},{"p":"b","v":-92,"m":0.93},{"p":"b","v":-85,"m":0.87},{"p":"b","v":-80,"m":0.84},{"p":"b","v":-75,"m":0.86},{"p":"b","v":-70,"m":0.9},{"p":"b","v":-65,"m":0.94},{"p":"b","v":-61,"m":0.88},{"p":"b","v":-57,"m":0.65},{"p":"b","v":-52,"m":0.45},{"p":"b","v":-48,"m":0.38},{"p":"b","v":-43,"m":0.5},{"p":"b","v":-38,"m":0.67},{"p":"b","v":-33,"m":0.6},{"p":"b","v":-28,"m":0.68},{"p":"b","v":-23,"m":0.64},{"p":"b","v":-18,"m":0.55},{"p":"b","v":-14,"m":0.35},{"p":"b","v":-10,"m":0.2},{"p":"b","v":-6,"m":0.42},{"p":"b","v":-2,"m":0.72},{"p":"b","v":3,"m":0.9},{"p":"b","v":8,"m":0.82},{"p":"b","v":12,"m":0.84},{"p":"b","v":17,"m":0.76},{"p":"b","v":24,"m":0.8},{"p":"b","v":30,"m":0.76},{"p":"b","v":35,"m":0.82},{"p":"b","v":42,"m":0.95},{"p":"b","v":50,"m":1.0},{"p":"b","v":300,"m":1.0},
{"p":"c","v":-400,"m":1},{"p":"c","v":-160,"m":1},{"p":"c","v":-150,"m":0.99},{"p":"c","v":-140,"m":0.935},{"p":"c","v":-130,"m":0.97},{"p":"c","v":-120,"m":1.0},{"p":"c","v":-100,"m":0.99},{"p":"c","v":-90,"m":0.95},{"p":"c","v":-85,"m":0.92},{"p":"c","v":-78,"m":0.89},{"p":"c","v":-70,"m":0.9},{"p":"c","v":-65,"m":0.93},{"p":"c","v":-60,"m":0.88},{"p":"c","v":-55,"m":0.7},{"p":"c","v":-50,"m":0.5},{"p":"c","v":-46,"m":0.47},{"p":"c","v":-40,"m":0.56},{"p":"c","v":-35,"m":0.64},{"p":"c","v":-30,"m":0.66},{"p":"c","v":-25,"m":0.64},{"p":"c","v":-20,"m":0.56},{"p":"c","v":-15,"m":0.42},{"p":"c","v":-11,"m":0.3},{"p":"c","v":-7,"m":0.42},{"p":"c","v":-2,"m":0.66},{"p":"c","v":3,"m":0.82},{"p":"c","v":8,"m":0.84},{"p":"c","v":13,"m":0.72},{"p":"c","v":18,"m":0.65},{"p":"c","v":25,"m":0.68},{"p":"c","v":30,"m":0.75},{"p":"c","v":35,"m":0.9},{"p":"c","v":42,"m":0.98},{"p":"c","v":50,"m":1.0},{"p":"c","v":300,"m":1.0},
{"p":"d","v":-400,"m":1},{"p":"d","v":-180,"m":1},{"p":"d","v":-170,"m":0.98},{"p":"d","v":-160,"m":0.95},{"p":"d","v":-152,"m":0.88},{"p":"d","v":-145,"m":0.75},{"p":"d","v":-138,"m":0.74},{"p":"d","v":-132,"m":0.85},{"p":"d","v":-125,"m":0.97},{"p":"d","v":-118,"m":0.995},{"p":"d","v":-110,"m":0.96},{"p":"d","v":-100,"m":0.82},{"p":"d","v":-90,"m":0.65},{"p":"d","v":-83,"m":0.6},{"p":"d","v":-76,"m":0.68},{"p":"d","v":-70,"m":0.73},{"p":"d","v":-64,"m":0.7},{"p":"d","v":-58,"m":0.45},{"p":"d","v":-52,"m":0.2},{"p":"d","v":-47,"m":0.1},{"p":"d","v":-42,"m":0.15},{"p":"d","v":-37,"m":0.18},{"p":"d","v":-30,"m":0.2},{"p":"d","v":-22,"m":0.27},{"p":"d","v":-17,"m":0.2},{"p":"d","v":-13,"m":0.16},{"p":"d","v":-8,"m":0.15},{"p":"d","v":-4,"m":0.3},{"p":"d","v":0,"m":0.62},{"p":"d","v":3,"m":0.78},{"p":"d","v":8,"m":0.68},{"p":"d","v":14,"m":0.58},{"p":"d","v":19,"m":0.52},{"p":"d","v":25,"m":0.55},{"p":"d","v":32,"m":0.58},{"p":"d","v":40,"m":0.8},{"p":"d","v":47,"m":0.95},{"p":"d","v":55,"m":1.0},{"p":"d","v":300,"m":1.0},
{"p":"e","v":-400,"m":1},{"p":"e","v":-250,"m":1},{"p":"e","v":-240,"m":0.99},{"p":"e","v":-228,"m":0.96},{"p":"e","v":-215,"m":0.97},{"p":"e","v":-200,"m":0.99},{"p":"e","v":-190,"m":0.99},{"p":"e","v":-182,"m":0.97},{"p":"e","v":-175,"m":0.92},{"p":"e","v":-168,"m":0.8},{"p":"e","v":-162,"m":0.68},{"p":"e","v":-156,"m":0.66},{"p":"e","v":-150,"m":0.68},{"p":"e","v":-145,"m":0.55},{"p":"e","v":-140,"m":0.35},{"p":"e","v":-136,"m":0.32},{"p":"e","v":-130,"m":0.48},{"p":"e","v":-125,"m":0.75},{"p":"e","v":-119,"m":0.91},{"p":"e","v":-112,"m":0.88},{"p":"e","v":-105,"m":0.8},{"p":"e","v":-98,"m":0.66},{"p":"e","v":-90,"m":0.48},{"p":"e","v":-84,"m":0.34},{"p":"e","v":-80,"m":0.31},{"p":"e","v":-75,"m":0.38},{"p":"e","v":-70,"m":0.56},{"p":"e","v":-66,"m":0.64},{"p":"e","v":-60,"m":0.6},{"p":"e","v":-55,"m":0.45},{"p":"e","v":-50,"m":0.3},{"p":"e","v":-46,"m":0.2},{"p":"e","v":-40,"m":0.24},{"p":"e","v":-34,"m":0.36},{"p":"e","v":-28,"m":0.48},{"p":"e","v":-20,"m":0.54},{"p":"e","v":-15,"m":0.5},{"p":"e","v":-10,"m":0.45},{"p":"e","v":-5,"m":0.39},{"p":"e","v":0,"m":0.43},{"p":"e","v":5,"m":0.62},{"p":"e","v":10,"m":0.8},{"p":"e","v":15,"m":0.9},{"p":"e","v":20,"m":0.92},{"p":"e","v":25,"m":0.9},{"p":"e","v":30,"m":0.84},{"p":"e","v":35,"m":0.78},{"p":"e","v":40,"m":0.82},{"p":"e","v":45,"m":0.89},{"p":"e","v":55,"m":0.95},{"p":"e","v":65,"m":0.97},{"p":"e","v":80,"m":0.99},{"p":"e","v":100,"m":1.0},{"p":"e","v":300,"m":1.0},
{"p":"f","v":-400,"m":1},{"p":"f","v":-75,"m":1},{"p":"f","v":-68,"m":0.98},{"p":"f","v":-60,"m":0.93},{"p":"f","v":-55,"m":0.88},{"p":"f","v":-52,"m":0.87},{"p":"f","v":-47,"m":0.89},{"p":"f","v":-40,"m":0.93},{"p":"f","v":-35,"m":0.95},{"p":"f","v":-30,"m":0.94},{"p":"f","v":-25,"m":0.9},{"p":"f","v":-20,"m":0.84},{"p":"f","v":-15,"m":0.81},{"p":"f","v":-12,"m":0.82},{"p":"f","v":-8,"m":0.89},{"p":"f","v":-3,"m":0.93},{"p":"f","v":5,"m":0.95},{"p":"f","v":12,"m":0.95},{"p":"f","v":20,"m":0.935},{"p":"f","v":25,"m":0.935},{"p":"f","v":30,"m":0.95},{"p":"f","v":35,"m":0.97},{"p":"f","v":42,"m":0.99},{"p":"f","v":50,"m":1.0},{"p":"f","v":300,"m":1.0},
{"p":"g","v":-400,"m":1},{"p":"g","v":-175,"m":1},{"p":"g","v":-160,"m":0.995},{"p":"g","v":-145,"m":0.985},{"p":"g","v":-130,"m":0.99},{"p":"g","v":-115,"m":0.995},{"p":"g","v":-100,"m":1.0},{"p":"g","v":-92,"m":0.99},{"p":"g","v":-85,"m":0.975},{"p":"g","v":-80,"m":0.96},{"p":"g","v":-75,"m":0.975},{"p":"g","v":-70,"m":0.98},{"p":"g","v":-65,"m":0.96},{"p":"g","v":-60,"m":0.86},{"p":"g","v":-55,"m":0.78},{"p":"g","v":-52,"m":0.74},{"p":"g","v":-47,"m":0.8},{"p":"g","v":-42,"m":0.84},{"p":"g","v":-35,"m":0.85},{"p":"g","v":-30,"m":0.84},{"p":"g","v":-25,"m":0.74},{"p":"g","v":-20,"m":0.6},{"p":"g","v":-17,"m":0.55},{"p":"g","v":-13,"m":0.68},{"p":"g","v":-8,"m":0.86},{"p":"g","v":-3,"m":0.92},{"p":"g","v":2,"m":0.92},{"p":"g","v":7,"m":0.89},{"p":"g","v":12,"m":0.86},{"p":"g","v":17,"m":0.87},{"p":"g","v":22,"m":0.91},{"p":"g","v":28,"m":0.95},{"p":"g","v":35,"m":0.98},{"p":"g","v":45,"m":1.0},{"p":"g","v":300,"m":1.0},
{"p":"h","v":-400,"m":1},{"p":"h","v":-185,"m":1},{"p":"h","v":-175,"m":0.99},{"p":"h","v":-168,"m":0.93},{"p":"h","v":-160,"m":0.87},{"p":"h","v":-152,"m":0.8},{"p":"h","v":-145,"m":0.62},{"p":"h","v":-140,"m":0.55},{"p":"h","v":-135,"m":0.65},{"p":"h","v":-128,"m":0.88},{"p":"h","v":-120,"m":0.98},{"p":"h","v":-115,"m":0.99},{"p":"h","v":-108,"m":0.95},{"p":"h","v":-100,"m":0.8},{"p":"h","v":-92,"m":0.6},{"p":"h","v":-86,"m":0.45},{"p":"h","v":-80,"m":0.37},{"p":"h","v":-75,"m":0.45},{"p":"h","v":-70,"m":0.55},{"p":"h","v":-65,"m":0.58},{"p":"h","v":-60,"m":0.5},{"p":"h","v":-55,"m":0.2},{"p":"h","v":-50,"m":0.04},{"p":"h","v":-45,"m":0.03},{"p":"h","v":-40,"m":0.05},{"p":"h","v":-35,"m":0.04},{"p":"h","v":-30,"m":0.07},{"p":"h","v":-25,"m":0.06},{"p":"h","v":-20,"m":0.09},{"p":"h","v":-15,"m":0.06},{"p":"h","v":-11,"m":0.06},{"p":"h","v":-7,"m":0.15},{"p":"h","v":-3,"m":0.35},{"p":"h","v":1,"m":0.55},{"p":"h","v":5,"m":0.6},{"p":"h","v":10,"m":0.45},{"p":"h","v":15,"m":0.38},{"p":"h","v":20,"m":0.33},{"p":"h","v":25,"m":0.35},{"p":"h","v":30,"m":0.34},{"p":"h","v":35,"m":0.55},{"p":"h","v":40,"m":0.85},{"p":"h","v":45,"m":0.98},{"p":"h","v":52,"m":1.0},{"p":"h","v":300,"m":1.0},
{"p":"i","v":-400,"m":1},{"p":"i","v":-185,"m":1},{"p":"i","v":-180,"m":0.99},{"p":"i","v":-175,"m":0.9},{"p":"i","v":-170,"m":0.55},{"p":"i","v":-165,"m":0.18},{"p":"i","v":-160,"m":0.04},{"p":"i","v":-150,"m":0.0},{"p":"i","v":-138,"m":0.0},{"p":"i","v":-134,"m":0.02},{"p":"i","v":-130,"m":0.15},{"p":"i","v":-127,"m":0.3},{"p":"i","v":-123,"m":0.2},{"p":"i","v":-118,"m":0.05},{"p":"i","v":-110,"m":0.0},{"p":"i","v":-82,"m":0.0},{"p":"i","v":-78,"m":0.02},{"p":"i","v":-74,"m":0.03},{"p":"i","v":-68,"m":0.02},{"p":"i","v":-60,"m":0.0},{"p":"i","v":-50,"m":0.0},{"p":"i","v":-44,"m":0.03},{"p":"i","v":-38,"m":0.05},{"p":"i","v":-32,"m":0.03},{"p":"i","v":-24,"m":0.0},{"p":"i","v":-10,"m":0.0},{"p":"i","v":-6,"m":0.04},{"p":"i","v":0,"m":0.2},{"p":"i","v":5,"m":0.4},{"p":"i","v":12,"m":0.52},{"p":"i","v":17,"m":0.4},{"p":"i","v":22,"m":0.15},{"p":"i","v":26,"m":0.04},{"p":"i","v":32,"m":0.2},{"p":"i","v":38,"m":0.55},{"p":"i","v":45,"m":0.7},{"p":"i","v":50,"m":0.73},{"p":"i","v":55,"m":0.8},{"p":"i","v":60,"m":0.95},{"p":"i","v":65,"m":0.99},{"p":"i","v":72,"m":1.0},{"p":"i","v":300,"m":1.0},
{"p":"j","v":-400,"m":1},{"p":"j","v":-250,"m":1},{"p":"j","v":-235,"m":0.99},{"p":"j","v":-222,"m":0.985},{"p":"j","v":-205,"m":0.995},{"p":"j","v":-190,"m":0.99},{"p":"j","v":-180,"m":0.97},{"p":"j","v":-172,"m":0.9},{"p":"j","v":-165,"m":0.82},{"p":"j","v":-158,"m":0.79},{"p":"j","v":-152,"m":0.8},{"p":"j","v":-146,"m":0.72},{"p":"j","v":-140,"m":0.57},{"p":"j","v":-136,"m":0.56},{"p":"j","v":-130,"m":0.7},{"p":"j","v":-124,"m":0.88},{"p":"j","v":-118,"m":0.93},{"p":"j","v":-110,"m":0.9},{"p":"j","v":-100,"m":0.85},{"p":"j","v":-92,"m":0.74},{"p":"j","v":-86,"m":0.62},{"p":"j","v":-80,"m":0.58},{"p":"j","v":-75,"m":0.68},{"p":"j","v":-70,"m":0.79},{"p":"j","v":-64,"m":0.77},{"p":"j","v":-58,"m":0.66},{"p":"j","v":-52,"m":0.55},{"p":"j","v":-46,"m":0.46},{"p":"j","v":-40,"m":0.52},{"p":"j","v":-34,"m":0.64},{"p":"j","v":-28,"m":0.73},{"p":"j","v":-20,"m":0.74},{"p":"j","v":-14,"m":0.75},{"p":"j","v":-8,"m":0.7},{"p":"j","v":-4,"m":0.68},{"p":"j","v":2,"m":0.74},{"p":"j","v":8,"m":0.85},{"p":"j","v":15,"m":0.96},{"p":"j","v":20,"m":0.96},{"p":"j","v":25,"m":0.91},{"p":"j","v":30,"m":0.89},{"p":"j","v":36,"m":0.9},{"p":"j","v":42,"m":0.95},{"p":"j","v":50,"m":0.99},{"p":"j","v":60,"m":1.0},{"p":"j","v":300,"m":1.0}
]
},
"hconcat":[
{"vconcat":[
{"width":474,"height":150,"resolve":{"axis":{"x":"independent","y":"independent"}},"layer":[
{"data":{"name":"obs"},"transform":[{"filter":"datum.p=='a' && datum.g>0"}],"mark":{"type":"area","interpolate":"step","color":"#b4b4b4","opacity":1,"clip":true},"encoding":{"x":{"field":"v","type":"quantitative","scale":{"domain":[-400,300],"nice":false,"zero":false},"axis":null},"y":{"field":"f","type":"quantitative","scale":{"domain":[0.5,1.25],"nice":false,"zero":false},"axis":null},"y2":{"datum":1},"detail":{"field":"g"}}},
{"data":{"values":[{}]},"mark":{"type":"rule","color":"#ff0000","strokeDash":[8,6],"strokeWidth":1.3},"encoding":{"y":{"datum":1,"type":"quantitative","axis":null}}},
{"data":{"name":"comp"},"mark":{"type":"rule","color":"#333333","strokeDash":[1,3],"strokeWidth":1},"encoding":{"x":{"field":"c","type":"quantitative","axis":null}}},
{"data":{"name":"obs"},"transform":[{"filter":"datum.p=='a'"}],"mark":{"type":"line","interpolate":"step","color":"black","strokeWidth":1.2,"clip":true},"encoding":{"x":{"field":"v","type":"quantitative","scale":{"domain":[-400,300],"nice":false,"zero":false},"axis":{"orient":"bottom","values":[-400,-375,-350,-325,-300,-275,-250,-225,-200,-175,-150,-125,-100,-75,-50,-25,0,25,50,75,100,125,150,175,200,225,250,275,300],"tickSize":{"condition":{"test":"datum.value % 100 == 0","value":-9},"value":-5},"labels":false,"title":null}},"y":{"field":"f","type":"quantitative","scale":{"domain":[0.5,1.25],"nice":false,"zero":false},"axis":{"orient":"left","values":[0.5,0.75,1,1.25],"format":".2f","tickSize":-9,"labelPadding":15,"title":null}}}},
{"data":{"name":"mod"},"transform":[{"filter":"datum.p=='a'"}],"mark":{"type":"line","interpolate":"monotone","color":"#00ff00","strokeWidth":1.3,"clip":true},"encoding":{"x":{"field":"v","type":"quantitative","axis":{"orient":"top","values":[-400,-375,-350,-325,-300,-275,-250,-225,-200,-175,-150,-125,-100,-75,-50,-25,0,25,50,75,100,125,150,175,200,225,250,275,300],"tickSize":{"condition":{"test":"datum.value % 100 == 0","value":-9},"value":-5},"labels":false,"title":null}},"y":{"field":"m","type":"quantitative","axis":{"orient":"right","values":[0.5,0.75,1,1.25],"tickSize":-9,"labels":false,"title":null}}}},
{"data":{"name":"mod"},"transform":[{"filter":"datum.p=='ab'"}],"mark":{"type":"line","interpolate":"monotone","color":"#0000ff","strokeDash":[2,2],"strokeWidth":1.5,"clip":true},"encoding":{"x":{"field":"v","type":"quantitative","axis":null},"y":{"field":"m","type":"quantitative","axis":null}}},
{"data":{"values":[{}]},"mark":{"type":"text","align":"left","baseline":"middle","fontSize":18,"font":"Liberation Sans","color":"black"},"encoding":{"x":{"datum":-347,"type":"quantitative","axis":null},"y":{"datum":0.63,"type":"quantitative","axis":null},"text":{"value":"SII1259"}}}
]},
{"width":474,"height":150,"resolve":{"axis":{"x":"independent","y":"independent"}},"layer":[
{"data":{"values":[{}]},"mark":{"type":"rule","color":"#ff0000","strokeDash":[8,6],"strokeWidth":1.3},"encoding":{"y":{"datum":1,"type":"quantitative","axis":null}}},
{"data":{"name":"comp"},"mark":{"type":"rule","color":"#333333","strokeDash":[1,3],"strokeWidth":1},"encoding":{"x":{"field":"c","type":"quantitative","axis":null}}},
{"data":{"name":"obs"},"transform":[{"filter":"datum.p=='b'"}],"mark":{"type":"line","interpolate":"step","color":"black","strokeWidth":1.2,"clip":true},"encoding":{"x":{"field":"v","type":"quantitative","scale":{"domain":[-400,300],"nice":false,"zero":false},"axis":{"orient":"bottom","values":[-400,-375,-350,-325,-300,-275,-250,-225,-200,-175,-150,-125,-100,-75,-50,-25,0,25,50,75,100,125,150,175,200,225,250,275,300],"tickSize":{"condition":{"test":"datum.value % 100 == 0","value":-9},"value":-5},"labels":false,"title":null}},"y":{"field":"f","type":"quantitative","scale":{"domain":[0,1.5],"nice":false,"zero":false},"axis":{"orient":"left","values":[0,0.5,1,1.5],"format":".1f","tickSize":-9,"labelPadding":15,"title":null}}}},
{"data":{"name":"mod"},"transform":[{"filter":"datum.p=='b'"}],"mark":{"type":"line","interpolate":"monotone","color":"#00ff00","strokeWidth":1.3,"clip":true},"encoding":{"x":{"field":"v","type":"quantitative","axis":{"orient":"top","values":[-400,-375,-350,-325,-300,-275,-250,-225,-200,-175,-150,-125,-100,-75,-50,-25,0,25,50,75,100,125,150,175,200,225,250,275,300],"tickSize":{"condition":{"test":"datum.value % 100 == 0","value":-9},"value":-5},"labels":false,"title":null}},"y":{"field":"m","type":"quantitative","axis":{"orient":"right","values":[0,0.5,1,1.5],"tickSize":-9,"labels":false,"title":null}}}},
{"data":{"values":[{}]},"mark":{"type":"text","align":"left","baseline":"middle","fontSize":18,"font":"Liberation Sans","color":"black"},"encoding":{"x":{"datum":152,"type":"quantitative","axis":null},"y":{"datum":0.2,"type":"quantitative","axis":null},"text":{"value":"SiII1526"}}}
]},
{"width":474,"height":150,"resolve":{"axis":{"x":"independent","y":"independent"}},"layer":[
{"data":{"values":[{}]},"mark":{"type":"rule","color":"#ff0000","strokeDash":[8,6],"strokeWidth":1.3},"encoding":{"y":{"datum":1,"type":"quantitative","axis":null}}},
{"data":{"name":"comp"},"mark":{"type":"rule","color":"#333333","strokeDash":[1,3],"strokeWidth":1},"encoding":{"x":{"field":"c","type":"quantitative","axis":null}}},
{"data":{"name":"obs"},"transform":[{"filter":"datum.p=='c'"}],"mark":{"type":"line","interpolate":"step","color":"black","strokeWidth":1.2,"clip":true},"encoding":{"x":{"field":"v","type":"quantitative","scale":{"domain":[-400,300],"nice":false,"zero":false},"axis":{"orient":"bottom","values":[-400,-375,-350,-325,-300,-275,-250,-225,-200,-175,-150,-125,-100,-75,-50,-25,0,25,50,75,100,125,150,175,200,225,250,275,300],"tickSize":{"condition":{"test":"datum.value % 100 == 0","value":-9},"value":-5},"labels":false,"title":null}},"y":{"field":"f","type":"quantitative","scale":{"domain":[0,1.5],"nice":false,"zero":false},"axis":{"orient":"left","values":[0,0.5,1,1.5],"format":".1f","tickSize":-9,"labelPadding":15,"title":"Normalised Flux","titlePadding":21}}}},
{"data":{"name":"mod"},"transform":[{"filter":"datum.p=='c'"}],"mark":{"type":"line","interpolate":"monotone","color":"#00ff00","strokeWidth":1.3,"clip":true},"encoding":{"x":{"field":"v","type":"quantitative","axis":{"orient":"top","values":[-400,-375,-350,-325,-300,-275,-250,-225,-200,-175,-150,-125,-100,-75,-50,-25,0,25,50,75,100,125,150,175,200,225,250,275,300],"tickSize":{"condition":{"test":"datum.value % 100 == 0","value":-9},"value":-5},"labels":false,"title":null}},"y":{"field":"m","type":"quantitative","axis":{"orient":"right","values":[0,0.5,1,1.5],"tickSize":-9,"labels":false,"title":null}}}},
{"data":{"values":[{}]},"mark":{"type":"text","align":"left","baseline":"middle","fontSize":18,"font":"Liberation Sans","color":"black"},"encoding":{"x":{"datum":152,"type":"quantitative","axis":null},"y":{"datum":0.2,"type":"quantitative","axis":null},"text":{"value":"FeII2382"}}}
]},
{"width":474,"height":150,"resolve":{"axis":{"x":"independent","y":"independent"}},"layer":[
{"data":{"values":[{}]},"mark":{"type":"rule","color":"#ff0000","strokeDash":[8,6],"strokeWidth":1.3},"encoding":{"y":{"datum":1,"type":"quantitative","axis":null}}},
{"data":{"name":"comp"},"mark":{"type":"rule","color":"#333333","strokeDash":[1,3],"strokeWidth":1},"encoding":{"x":{"field":"c","type":"quantitative","axis":null}}},
{"data":{"name":"obs"},"transform":[{"filter":"datum.p=='d'"}],"mark":{"type":"line","interpolate":"step","color":"black","strokeWidth":1.2,"clip":true},"encoding":{"x":{"field":"v","type":"quantitative","scale":{"domain":[-400,300],"nice":false,"zero":false},"axis":{"orient":"bottom","values":[-400,-375,-350,-325,-300,-275,-250,-225,-200,-175,-150,-125,-100,-75,-50,-25,0,25,50,75,100,125,150,175,200,225,250,275,300],"tickSize":{"condition":{"test":"datum.value % 100 == 0","value":-9},"value":-5},"labels":false,"title":null}},"y":{"field":"f","type":"quantitative","scale":{"domain":[0,1.5],"nice":false,"zero":false},"axis":{"orient":"left","values":[0,0.5,1,1.5],"format":".1f","tickSize":-9,"labelPadding":15,"title":null}}}},
{"data":{"name":"mod"},"transform":[{"filter":"datum.p=='d'"}],"mark":{"type":"line","interpolate":"monotone","color":"#00ff00","strokeWidth":1.3,"clip":true},"encoding":{"x":{"field":"v","type":"quantitative","axis":{"orient":"top","values":[-400,-375,-350,-325,-300,-275,-250,-225,-200,-175,-150,-125,-100,-75,-50,-25,0,25,50,75,100,125,150,175,200,225,250,275,300],"tickSize":{"condition":{"test":"datum.value % 100 == 0","value":-9},"value":-5},"labels":false,"title":null}},"y":{"field":"m","type":"quantitative","axis":{"orient":"right","values":[0,0.5,1,1.5],"tickSize":-9,"labels":false,"title":null}}}},
{"data":{"values":[{}]},"mark":{"type":"text","align":"left","baseline":"middle","fontSize":18,"font":"Liberation Sans","color":"black"},"encoding":{"x":{"datum":152,"type":"quantitative","axis":null},"y":{"datum":0.2,"type":"quantitative","axis":null},"text":{"value":"MgII2803"}}}
]},
{"width":474,"height":150,"resolve":{"axis":{"x":"independent","y":"independent"}},"layer":[
{"data":{"values":[{}]},"mark":{"type":"rule","color":"#ff0000","strokeDash":[8,6],"strokeWidth":1.3},"encoding":{"y":{"datum":1,"type":"quantitative","axis":null}}},
{"data":{"name":"comp"},"mark":{"type":"rule","color":"#333333","strokeDash":[1,3],"strokeWidth":1},"encoding":{"x":{"field":"c","type":"quantitative","axis":null}}},
{"data":{"name":"obs"},"transform":[{"filter":"datum.p=='e'"}],"mark":{"type":"line","interpolate":"step","color":"black","strokeWidth":1.2,"clip":true},"encoding":{"x":{"field":"v","type":"quantitative","scale":{"domain":[-400,300],"nice":false,"zero":false},"axis":{"orient":"bottom","values":[-400,-375,-350,-325,-300,-275,-250,-225,-200,-175,-150,-125,-100,-75,-50,-25,0,25,50,75,100,125,150,175,200,225,250,275,300],"tickSize":{"condition":{"test":"datum.value % 100 == 0","value":-9},"value":-5},"labelExpr":"datum.value % 100 == 0 ? '' + datum.value : ''","labelPadding":16,"title":"Radial Velocity (km s⁻¹)","titlePadding":4}},"y":{"field":"f","type":"quantitative","scale":{"domain":[0,1.5],"nice":false,"zero":false},"axis":{"orient":"left","values":[0,0.5,1,1.5],"format":".1f","tickSize":-9,"labelPadding":15,"title":null}}}},
{"data":{"name":"mod"},"transform":[{"filter":"datum.p=='e'"}],"mark":{"type":"line","interpolate":"monotone","color":"#00ff00","strokeWidth":1.3,"clip":true},"encoding":{"x":{"field":"v","type":"quantitative","axis":{"orient":"top","values":[-400,-375,-350,-325,-300,-275,-250,-225,-200,-175,-150,-125,-100,-75,-50,-25,0,25,50,75,100,125,150,175,200,225,250,275,300],"tickSize":{"condition":{"test":"datum.value % 100 == 0","value":-9},"value":-5},"labels":false,"title":null}},"y":{"field":"m","type":"quantitative","axis":{"orient":"right","values":[0,0.5,1,1.5],"tickSize":-9,"labels":false,"title":null}}}},
{"data":{"values":[{}]},"mark":{"type":"text","align":"left","baseline":"middle","fontSize":18,"font":"Liberation Sans","color":"black"},"encoding":{"x":{"datum":152,"type":"quantitative","axis":null},"y":{"datum":0.21,"type":"quantitative","axis":null},"text":{"value":"SiIV1393"}}}
]}
],"spacing":0,"bounds":"flush"},
{"vconcat":[
{"width":474,"height":150,"resolve":{"axis":{"x":"independent","y":"independent"}},"layer":[
{"data":{"name":"obs"},"transform":[{"filter":"datum.p=='f' && datum.g>0"}],"mark":{"type":"area","interpolate":"step","color":"#b4b4b4","opacity":1,"clip":true},"encoding":{"x":{"field":"v","type":"quantitative","scale":{"domain":[-400,300],"nice":false,"zero":false},"axis":null},"y":{"field":"f","type":"quantitative","scale":{"domain":[0.5,1.25],"nice":false,"zero":false},"axis":null},"y2":{"datum":1},"detail":{"field":"g"}}},
{"data":{"values":[{}]},"mark":{"type":"rule","color":"#ff0000","strokeDash":[8,6],"strokeWidth":1.3},"encoding":{"y":{"datum":1,"type":"quantitative","axis":null}}},
{"data":{"name":"comp"},"mark":{"type":"rule","color":"#333333","strokeDash":[1,3],"strokeWidth":1},"encoding":{"x":{"field":"c","type":"quantitative","axis":null}}},
{"data":{"name":"obs"},"transform":[{"filter":"datum.p=='f'"}],"mark":{"type":"line","interpolate":"step","color":"black","strokeWidth":1.2,"clip":true},"encoding":{"x":{"field":"v","type":"quantitative","scale":{"domain":[-400,300],"nice":false,"zero":false},"axis":{"orient":"bottom","values":[-400,-375,-350,-325,-300,-275,-250,-225,-200,-175,-150,-125,-100,-75,-50,-25,0,25,50,75,100,125,150,175,200,225,250,275,300],"tickSize":{"condition":{"test":"datum.value % 100 == 0","value":-9},"value":-5},"labels":false,"title":null}},"y":{"field":"f","type":"quantitative","scale":{"domain":[0.5,1.25],"nice":false,"zero":false},"axis":{"orient":"left","values":[0.5,0.75,1,1.25],"format":".2f","tickSize":-9,"labelPadding":15,"title":null}}}},
{"data":{"name":"mod"},"transform":[{"filter":"datum.p=='f'"}],"mark":{"type":"line","interpolate":"monotone","color":"#00ff00","strokeWidth":1.3,"clip":true},"encoding":{"x":{"field":"v","type":"quantitative","axis":{"orient":"top","values":[-400,-375,-350,-325,-300,-275,-250,-225,-200,-175,-150,-125,-100,-75,-50,-25,0,25,50,75,100,125,150,175,200,225,250,275,300],"tickSize":{"condition":{"test":"datum.value % 100 == 0","value":-9},"value":-5},"labels":false,"title":null}},"y":{"field":"m","type":"quantitative","axis":{"orient":"right","values":[0.5,0.75,1,1.25],"tickSize":-9,"labels":false,"title":null}}}},
{"data":{"values":[{}]},"mark":{"type":"text","align":"left","baseline":"middle","fontSize":18,"font":"Liberation Sans","color":"black"},"encoding":{"x":{"datum":152,"type":"quantitative","axis":null},"y":{"datum":0.61,"type":"quantitative","axis":null},"text":{"value":"MgI2852"}}}
]},
{"width":474,"height":150,"resolve":{"axis":{"x":"independent","y":"independent"}},"layer":[
{"data":{"name":"obs"},"transform":[{"filter":"datum.p=='g' && datum.g>0"}],"mark":{"type":"area","interpolate":"step","color":"#b4b4b4","opacity":1,"clip":true},"encoding":{"x":{"field":"v","type":"quantitative","scale":{"domain":[-400,300],"nice":false,"zero":false},"axis":null},"y":{"field":"f","type":"quantitative","scale":{"domain":[0.5,1.25],"nice":false,"zero":false},"axis":null},"y2":{"datum":1},"detail":{"field":"g"}}},
{"data":{"values":[{}]},"mark":{"type":"rule","color":"#ff0000","strokeDash":[8,6],"strokeWidth":1.3},"encoding":{"y":{"datum":1,"type":"quantitative","axis":null}}},
{"data":{"name":"comp"},"mark":{"type":"rule","color":"#333333","strokeDash":[1,3],"strokeWidth":1},"encoding":{"x":{"field":"c","type":"quantitative","axis":null}}},
{"data":{"name":"obs"},"transform":[{"filter":"datum.p=='g'"}],"mark":{"type":"line","interpolate":"step","color":"black","strokeWidth":1.2,"clip":true},"encoding":{"x":{"field":"v","type":"quantitative","scale":{"domain":[-400,300],"nice":false,"zero":false},"axis":{"orient":"bottom","values":[-400,-375,-350,-325,-300,-275,-250,-225,-200,-175,-150,-125,-100,-75,-50,-25,0,25,50,75,100,125,150,175,200,225,250,275,300],"tickSize":{"condition":{"test":"datum.value % 100 == 0","value":-9},"value":-5},"labels":false,"title":null}},"y":{"field":"f","type":"quantitative","scale":{"domain":[0.5,1.25],"nice":false,"zero":false},"axis":{"orient":"left","values":[0.5,0.75,1,1.25],"format":".2f","tickSize":-9,"labelPadding":15,"title":null}}}},
{"data":{"name":"mod"},"transform":[{"filter":"datum.p=='g'"}],"mark":{"type":"line","interpolate":"monotone","color":"#00ff00","strokeWidth":1.3,"clip":true},"encoding":{"x":{"field":"v","type":"quantitative","axis":{"orient":"top","values":[-400,-375,-350,-325,-300,-275,-250,-225,-200,-175,-150,-125,-100,-75,-50,-25,0,25,50,75,100,125,150,175,200,225,250,275,300],"tickSize":{"condition":{"test":"datum.value % 100 == 0","value":-9},"value":-5},"labels":false,"title":null}},"y":{"field":"m","type":"quantitative","axis":{"orient":"right","values":[0.5,0.75,1,1.25],"tickSize":-9,"labels":false,"title":null}}}},
{"data":{"values":[{}]},"mark":{"type":"text","align":"left","baseline":"middle","fontSize":18,"font":"Liberation Sans","color":"black"},"encoding":{"x":{"datum":152,"type":"quantitative","axis":null},"y":{"datum":0.615,"type":"quantitative","axis":null},"text":{"value":"FeII2344"}}}
]},
{"width":474,"height":150,"resolve":{"axis":{"x":"independent","y":"independent"}},"layer":[
{"data":{"values":[{}]},"mark":{"type":"rule","color":"#ff0000","strokeDash":[8,6],"strokeWidth":1.3},"encoding":{"y":{"datum":1,"type":"quantitative","axis":null}}},
{"data":{"name":"comp"},"mark":{"type":"rule","color":"#333333","strokeDash":[1,3],"strokeWidth":1},"encoding":{"x":{"field":"c","type":"quantitative","axis":null}}},
{"data":{"name":"obs"},"transform":[{"filter":"datum.p=='h'"}],"mark":{"type":"line","interpolate":"step","color":"black","strokeWidth":1.2,"clip":true},"encoding":{"x":{"field":"v","type":"quantitative","scale":{"domain":[-400,300],"nice":false,"zero":false},"axis":{"orient":"bottom","values":[-400,-375,-350,-325,-300,-275,-250,-225,-200,-175,-150,-125,-100,-75,-50,-25,0,25,50,75,100,125,150,175,200,225,250,275,300],"tickSize":{"condition":{"test":"datum.value % 100 == 0","value":-9},"value":-5},"labels":false,"title":null}},"y":{"field":"f","type":"quantitative","scale":{"domain":[0,1.5],"nice":false,"zero":false},"axis":{"orient":"left","values":[0,0.5,1,1.5],"format":".1f","tickSize":-9,"labelPadding":15,"title":null}}}},
{"data":{"name":"mod"},"transform":[{"filter":"datum.p=='h'"}],"mark":{"type":"line","interpolate":"monotone","color":"#00ff00","strokeWidth":1.3,"clip":true},"encoding":{"x":{"field":"v","type":"quantitative","axis":{"orient":"top","values":[-400,-375,-350,-325,-300,-275,-250,-225,-200,-175,-150,-125,-100,-75,-50,-25,0,25,50,75,100,125,150,175,200,225,250,275,300],"tickSize":{"condition":{"test":"datum.value % 100 == 0","value":-9},"value":-5},"labels":false,"title":null}},"y":{"field":"m","type":"quantitative","axis":{"orient":"right","values":[0,0.5,1,1.5],"tickSize":-9,"labels":false,"title":null}}}},
{"data":{"values":[{}]},"mark":{"type":"text","align":"left","baseline":"middle","fontSize":18,"font":"Liberation Sans","color":"black"},"encoding":{"x":{"datum":152,"type":"quantitative","axis":null},"y":{"datum":0.2,"type":"quantitative","axis":null},"text":{"value":"MgII2796"}}}
]},
{"width":474,"height":150,"resolve":{"axis":{"x":"independent","y":"independent"}},"layer":[
{"data":{"name":"obs"},"transform":[{"filter":"datum.p=='i' && datum.g>0"}],"mark":{"type":"area","interpolate":"step","color":"#b4b4b4","opacity":1,"clip":true},"encoding":{"x":{"field":"v","type":"quantitative","scale":{"domain":[-400,300],"nice":false,"zero":false},"axis":null},"y":{"field":"f","type":"quantitative","scale":{"domain":[0,1.5],"nice":false,"zero":false},"axis":null},"y2":{"datum":1},"detail":{"field":"g"}}},
{"data":{"values":[{}]},"mark":{"type":"rule","color":"#ff0000","strokeDash":[8,6],"strokeWidth":1.3},"encoding":{"y":{"datum":1,"type":"quantitative","axis":null}}},
{"data":{"name":"comp"},"mark":{"type":"rule","color":"#333333","strokeDash":[1,3],"strokeWidth":1},"encoding":{"x":{"field":"c","type":"quantitative","axis":null}}},
{"data":{"name":"obs"},"transform":[{"filter":"datum.p=='i'"}],"mark":{"type":"line","interpolate":"step","color":"black","strokeWidth":1.2,"clip":true},"encoding":{"x":{"field":"v","type":"quantitative","scale":{"domain":[-400,300],"nice":false,"zero":false},"axis":{"orient":"bottom","values":[-400,-375,-350,-325,-300,-275,-250,-225,-200,-175,-150,-125,-100,-75,-50,-25,0,25,50,75,100,125,150,175,200,225,250,275,300],"tickSize":{"condition":{"test":"datum.value % 100 == 0","value":-9},"value":-5},"labels":false,"title":null}},"y":{"field":"f","type":"quantitative","scale":{"domain":[0,1.5],"nice":false,"zero":false},"axis":{"orient":"left","values":[0,0.5,1,1.5],"format":".1f","tickSize":-9,"labelPadding":15,"title":null}}}},
{"data":{"name":"mod"},"transform":[{"filter":"datum.p=='i'"}],"mark":{"type":"line","interpolate":"monotone","color":"#00ff00","strokeWidth":1.3,"clip":true},"encoding":{"x":{"field":"v","type":"quantitative","axis":{"orient":"top","values":[-400,-375,-350,-325,-300,-275,-250,-225,-200,-175,-150,-125,-100,-75,-50,-25,0,25,50,75,100,125,150,175,200,225,250,275,300],"tickSize":{"condition":{"test":"datum.value % 100 == 0","value":-9},"value":-5},"labels":false,"title":null}},"y":{"field":"m","type":"quantitative","axis":{"orient":"right","values":[0,0.5,1,1.5],"tickSize":-9,"labels":false,"title":null}}}},
{"data":{"values":[{}]},"mark":{"type":"text","align":"left","baseline":"middle","fontSize":18,"font":"Liberation Sans","color":"black"},"encoding":{"x":{"datum":152,"type":"quantitative","axis":null},"y":{"datum":0.2,"type":"quantitative","axis":null},"text":{"value":"SiIII1206"}}}
]},
{"width":474,"height":150,"resolve":{"axis":{"x":"independent","y":"independent"}},"layer":[
{"data":{"values":[{}]},"mark":{"type":"rule","color":"#ff0000","strokeDash":[8,6],"strokeWidth":1.3},"encoding":{"y":{"datum":1,"type":"quantitative","axis":null}}},
{"data":{"name":"comp"},"mark":{"type":"rule","color":"#333333","strokeDash":[1,3],"strokeWidth":1},"encoding":{"x":{"field":"c","type":"quantitative","axis":null}}},
{"data":{"name":"obs"},"transform":[{"filter":"datum.p=='j'"}],"mark":{"type":"line","interpolate":"step","color":"black","strokeWidth":1.2,"clip":true},"encoding":{"x":{"field":"v","type":"quantitative","scale":{"domain":[-400,300],"nice":false,"zero":false},"axis":{"orient":"bottom","values":[-400,-375,-350,-325,-300,-275,-250,-225,-200,-175,-150,-125,-100,-75,-50,-25,0,25,50,75,100,125,150,175,200,225,250,275,300],"tickSize":{"condition":{"test":"datum.value % 100 == 0","value":-9},"value":-5},"labelExpr":"datum.value % 100 == 0 ? '' + datum.value : ''","labelPadding":16,"title":"Radial Velocity (km s⁻¹)","titlePadding":4}},"y":{"field":"f","type":"quantitative","scale":{"domain":[0,1.5],"nice":false,"zero":false},"axis":{"orient":"left","values":[0,0.5,1,1.5],"format":".1f","tickSize":-9,"labelPadding":15,"title":null}}}},
{"data":{"name":"mod"},"transform":[{"filter":"datum.p=='j'"}],"mark":{"type":"line","interpolate":"monotone","color":"#00ff00","strokeWidth":1.3,"clip":true},"encoding":{"x":{"field":"v","type":"quantitative","axis":{"orient":"top","values":[-400,-375,-350,-325,-300,-275,-250,-225,-200,-175,-150,-125,-100,-75,-50,-25,0,25,50,75,100,125,150,175,200,225,250,275,300],"tickSize":{"condition":{"test":"datum.value % 100 == 0","value":-9},"value":-5},"labels":false,"title":null}},"y":{"field":"m","type":"quantitative","axis":{"orient":"right","values":[0,0.5,1,1.5],"tickSize":-9,"labels":false,"title":null}}}},
{"data":{"values":[{}]},"mark":{"type":"text","align":"left","baseline":"middle","fontSize":18,"font":"Liberation Sans","color":"black"},"encoding":{"x":{"datum":152,"type":"quantitative","axis":null},"y":{"datum":0.21,"type":"quantitative","axis":null},"text":{"value":"SiIV1402"}}}
]}
],"spacing":0,"bounds":"flush"}
]
}
